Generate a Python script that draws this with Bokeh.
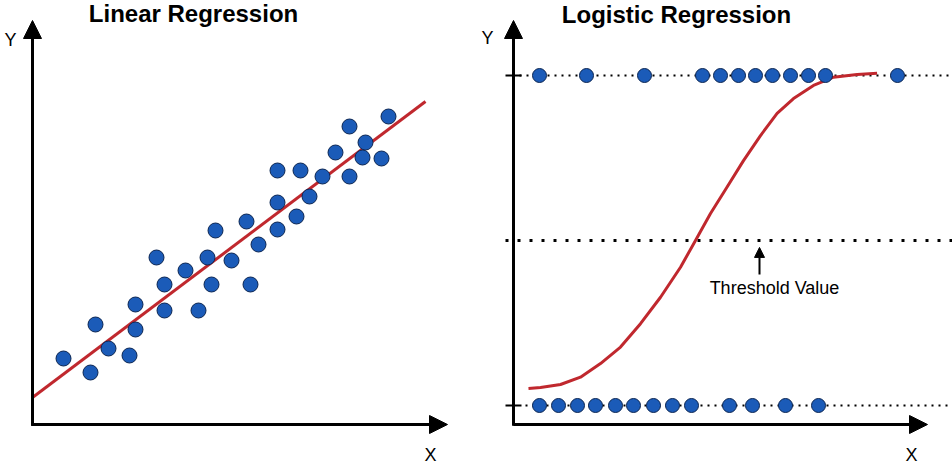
from bokeh.plotting import figure
from bokeh.layouts import row
from bokeh.models import Range1d, Arrow, NormalHead, Label
from bokeh.embed import file_html
from bokeh.resources import INLINE

# ---------------- data ----------------
# Linear regression scatter
lin_x = [0.775, 1.45, 1.575, 1.9, 2.425, 2.575, 2.575, 3.1, 3.3, 3.3, 3.825, 4.15,
         4.375, 4.475, 4.575, 4.975, 5.35, 5.45, 5.65, 6.125, 6.125, 6.125, 6.6,
         6.7, 6.925, 7.25, 7.575, 7.925, 7.925, 8.25, 8.325, 8.725, 8.9]
lin_y = [1.65, 1.3, 2.5, 1.9, 1.725, 2.375, 3.0, 4.175, 3.5, 2.85, 3.85, 2.85,
         4.175, 3.5, 4.85, 4.1, 5.075, 3.5, 4.5, 4.875, 5.55, 6.35, 5.2,
         6.35, 5.7, 6.2, 6.8, 7.45, 6.2, 6.675, 7.05, 6.65, 7.7]
fit_x = [0.0, 9.825]
fit_y = [0.675, 8.075]

# Logistic regression
class_one_x = [0.65, 1.825, 3.275, 4.725, 5.175, 5.625, 6.05, 6.475, 6.925, 7.375, 7.8, 9.6]
class_zero_x = [0.65, 1.125, 1.6, 2.05, 2.55, 3.0, 3.5, 3.975, 4.45, 5.4, 5.975, 6.8, 7.625]
curve_x = [0.375, 0.675, 1.175, 1.675, 2.175, 2.675, 3.175, 3.675, 4.175, 4.55,
           4.925, 5.34, 5.75, 6.175, 6.59, 7.0, 7.5, 8.0, 8.59, 9.09]
curve_y = [0.0515, 0.0545, 0.0636, 0.0858, 0.127, 0.177, 0.248, 0.328, 0.419, 0.5,
           0.582, 0.662, 0.742, 0.818, 0.885, 0.930, 0.970, 0.995, 1.003, 1.007]
threshold = 0.5
levels = [0, 1]

# ---------------- styles ----------------
FONT = "Liberation Sans"
DOT_FILL = "#1b5bb8"
DOT_LINE = "#0c2652"
RED = "#c0282e"


def base_fig(xr, yr):
    p = figure(width=476, height=464, x_range=Range1d(*xr), y_range=Range1d(*yr),
               output_backend="svg", toolbar_location=None, min_border=0)
    p.xaxis.visible = False
    p.yaxis.visible = False
    p.xgrid.visible = False
    p.ygrid.visible = False
    p.outline_line_color = None
    p.background_fill_color = "white"
    p.border_fill_color = "white"
    return p


def add_text(p, x, y, txt, size, bold=False, align="center", baseline="middle"):
    p.add_layout(Label(x=x, y=y, text=txt, text_font=FONT, text_font_size=f"{size}px",
                       text_font_style="bold" if bold else "normal", text_color="black",
                       text_align=align, text_baseline=baseline))


def axis_arrow(p, x0, y0, x1, y1, lw=3, size=18):
    p.add_layout(Arrow(end=NormalHead(size=size, fill_color="black", line_color="black"),
                       x_start=x0, y_start=y0, x_end=x1, y_end=y1,
                       line_width=lw, line_color="black"))


# ---------------- left panel ----------------
p1 = base_fig((-0.8, 11.1), (-1.0, 10.6))
axis_arrow(p1, 0, -0.03, 0, 10.1)
axis_arrow(p1, -0.03, 0, 10.375, 0)
p1.line(fit_x, fit_y, line_color=RED, line_width=3)
p1.scatter(lin_x, lin_y, size=15, fill_color=DOT_FILL, line_color=DOT_LINE, line_width=1)
add_text(p1, 4.025, 10.27, "Linear Regression", 24, bold=True, baseline="alphabetic")
add_text(p1, -0.55, 9.62, "Y", 18)
add_text(p1, 9.95, -0.75, "X", 18)

# ---------------- right panel ----------------
p2 = base_fig((-0.925, 10.975), (-0.1788, 1.2273))
ax_y = -0.0576
axis_arrow(p2, 0, ax_y - 0.004, 0, 1.1667)
axis_arrow(p2, -0.003, ax_y, 10.35, ax_y)
for lv in levels:
    p2.line([-0.2, 0.2], [lv, lv], line_color="black", line_width=2)
p2.line([0.15, 10.975], [1, 1], line_color="black", line_width=2, line_dash="2 5")
p2.line([0.3, 10.975], [0, 0], line_color="black", line_width=2, line_dash="2 5")
p2.line([-0.2, 10.975], [threshold, threshold], line_color="black", line_width=3,
        line_dash="3 9")
p2.line(curve_x, curve_y, line_color=RED, line_width=3, line_join="round")
p2.scatter(class_one_x, [levels[1]] * len(class_one_x), size=14, fill_color=DOT_FILL,
           line_color=DOT_LINE, line_width=1)
p2.scatter(class_zero_x, [levels[0]] * len(class_zero_x), size=14, fill_color=DOT_FILL,
           line_color=DOT_LINE, line_width=1)
axis_arrow(p2, 6.15, 0.397, 6.15, 0.479, lw=2, size=10)
add_text(p2, 6.525, 0.355, "Threshold Value", 18, baseline="alphabetic")
add_text(p2, 4.075, 1.184, "Logistic Regression", 24, bold=True, baseline="alphabetic")
add_text(p2, -0.65, 1.115, "Y", 18)
add_text(p2, 9.95, -0.1485, "X", 18)

layout = row(p1, p2)
open("out.html", "w").write(file_html(layout, INLINE))
